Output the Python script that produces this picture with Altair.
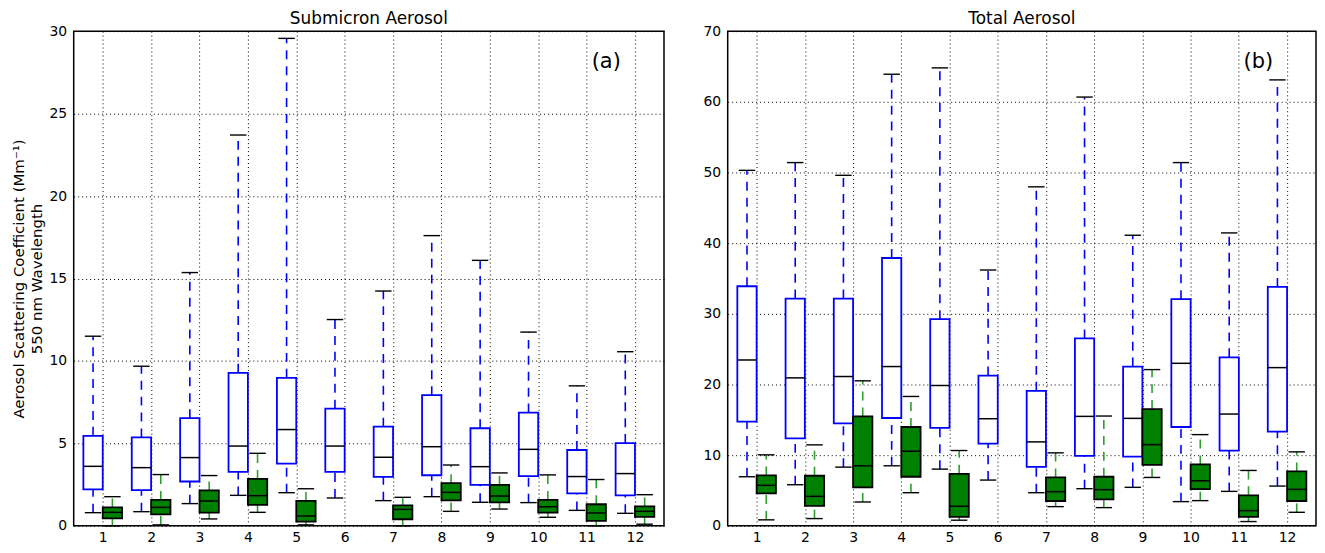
import altair as alt
import pandas as pd

months = list(range(1, 13))

# Panel (a): Submicron aerosol
a_blue_lo = [0.80, 0.86, 1.35, 1.85, 2.01, 1.69, 1.53, 1.77, 1.43, 1.41, 0.94, 0.76]
a_blue_q1 = [2.21, 2.17, 2.69, 3.27, 3.78, 3.27, 2.97, 3.07, 2.49, 3.01, 1.97, 1.85]
a_blue_md = [3.61, 3.53, 4.14, 4.84, 5.84, 4.84, 4.16, 4.80, 3.59, 4.64, 2.99, 3.17]
a_blue_q3 = [5.46, 5.36, 6.53, 9.28, 8.98, 7.11, 6.02, 7.93, 5.92, 6.87, 4.60, 5.02]
a_blue_hi = [11.5, 9.68, 15.36, 23.7, 29.56, 12.51, 14.24, 17.6, 16.1, 11.75, 8.49, 10.56]

a_green_lo = [0.00, 0.06, 0.42, 0.82, 0.06, None, 0.00, 0.88, 1.02, 0.52, 0.00, 0.10]
a_green_q1 = [0.46, 0.70, 0.80, 1.27, 0.26, None, 0.40, 1.55, 1.43, 0.80, 0.30, 0.54]
a_green_md = [0.82, 1.12, 1.51, 1.83, 0.60, None, 1.00, 2.03, 1.81, 1.16, 0.78, 0.88]
a_green_q3 = [1.12, 1.57, 2.15, 2.85, 1.51, None, 1.24, 2.59, 2.49, 1.57, 1.31, 1.18]
a_green_hi = [1.77, 3.11, 3.05, 4.40, 2.25, None, 1.73, 3.69, 3.21, 3.09, 2.81, 1.89]

# Panel (b): Total aerosol
b_blue_lo = [6.95, 5.82, 8.31, 8.50, 8.03, 6.48, 4.69, 5.26, 5.45, 3.43, 4.88, 5.63]
b_blue_q1 = [14.74, 12.39, 14.51, 15.26, 13.85, 11.64, 8.36, 9.91, 9.81, 13.99, 10.66, 13.33]
b_blue_md = [23.47, 20.94, 21.13, 22.54, 19.86, 15.16, 11.88, 15.49, 15.21, 23.0, 15.82, 22.39]
b_blue_q3 = [33.9, 32.16, 32.16, 37.9, 29.25, 21.27, 19.11, 26.53, 22.54, 32.07, 23.85, 33.8]
b_blue_hi = [50.3, 51.4, 49.6, 63.9, 64.8, 36.2, 47.97, 60.67, 41.12, 51.4, 41.45, 63.1]

b_green_lo = [0.85, 1.03, 3.38, 4.69, 0.80, None, 2.72, 2.58, 6.85, 3.57, 0.61, 1.92]
b_green_q1 = [4.60, 2.82, 5.45, 6.95, 1.27, None, 3.52, 3.76, 8.64, 5.21, 1.27, 3.52]
b_green_md = [5.73, 4.18, 8.50, 10.56, 2.77, None, 4.84, 5.12, 11.50, 6.38, 2.16, 5.16]
b_green_q3 = [7.14, 7.09, 15.49, 13.99, 7.37, None, 6.85, 6.95, 16.53, 8.69, 4.32, 7.70]
b_green_hi = [10.05, 11.46, 20.52, 18.31, 10.66, None, 10.33, 15.54, 22.11, 12.91, 7.84, 10.47]

FONT = "DejaVu Sans"
BLUE = "#0000ff"
GREEN_FILL = "#008000"
GREEN_WHISK = "#2e9e2e"


def frame(series, lo, q1, md, q3, hi):
    rows = []
    for m, a, b, c, d, e in zip(months, lo, q1, md, q3, hi):
        if a is None:
            continue
        rows.append(dict(month=m, series=series, lo=a, q1=b, md=c, q3=d, hi=e))
    return rows


def panel(title, label, ymax, ytitle, blue, green, width):
    df = pd.DataFrame(frame("blue", *blue) + frame("green", *green))
    base = alt.Chart(df).transform_calculate(
        pos="datum.month + (datum.series == 'blue' ? -0.2 : 0.2)",
        bl="datum.month + (datum.series == 'blue' ? -0.4 : 0.0)",
        br="datum.month + (datum.series == 'blue' ? 0.0 : 0.4)",
        cl="datum.month + (datum.series == 'blue' ? -0.37 : 0.03)",
        cr="datum.month + (datum.series == 'blue' ? -0.03 : 0.37)",
    )
    xs = alt.Scale(domain=[0.4, 12.6], nice=False, zero=False)
    ys = alt.Scale(domain=[0, ymax], nice=False)
    xaxis = alt.Axis(values=months, title=None, grid=True, gridDash=[1, 3],
                     gridColor="black", gridOpacity=1, ticks=False, domain=False,
                     labelFont=FONT, labelFontSize=14, labelColor="black", labelPadding=5)
    yaxis = alt.Axis(values=list(range(0, ymax + 1, 5 if ymax == 30 else 10)),
                     title=ytitle, grid=True, gridDash=[1, 3], gridColor="black",
                     gridOpacity=1, ticks=False, domain=False, labelFont=FONT,
                     labelFontSize=14, labelColor="black", labelPadding=7,
                     titleFont=FONT, titleFontSize=15, titleFontWeight="normal",
                     titleColor="black", titlePadding=5, titleLineHeight=18)
    colr = alt.Color("series:N", scale=alt.Scale(domain=["blue", "green"], range=[BLUE, GREEN_WHISK]), legend=None)

    whisk_up = base.mark_rule(strokeDash=[9, 7], strokeWidth=1.6).encode(
        x=alt.X("pos:Q", scale=xs, axis=xaxis), y=alt.Y("q3:Q", scale=ys, axis=yaxis), y2="hi:Q", color=colr)
    whisk_dn = base.mark_rule(strokeDash=[9, 7], strokeWidth=1.6).encode(
        x="pos:Q", y="lo:Q", y2="q1:Q", color=colr)
    cap_hi = base.mark_rule(color="black", strokeWidth=1.4).encode(x="cl:Q", x2="cr:Q", y="hi:Q")
    cap_lo = base.mark_rule(color="black", strokeWidth=1.4).encode(x="cl:Q", x2="cr:Q", y="lo:Q")
    box = base.mark_rect(strokeWidth=1.8).encode(
        x="bl:Q", x2="br:Q", y="q1:Q", y2="q3:Q",
        fill=alt.Fill("series:N", scale=alt.Scale(domain=["blue", "green"], range=["white", GREEN_FILL]), legend=None),
        stroke=alt.Stroke("series:N", scale=alt.Scale(domain=["blue", "green"], range=[BLUE, "black"]), legend=None),
    )
    med = base.mark_rule(color="black", strokeWidth=1.5).encode(x="bl:Q", x2="br:Q", y="md:Q")
    lab = alt.Chart(pd.DataFrame({"t": [label]})).mark_text(
        font=FONT, fontSize=21, color="black", align="center", baseline="middle").encode(
        text="t:N", x=alt.value(width - 58), y=alt.value(31))
    return alt.layer(whisk_up, whisk_dn, cap_hi, cap_lo, box, med, lab).properties(
        width=width, height=497,
        title=alt.TitleParams(title, font=FONT, fontSize=17, fontWeight="normal", color="black", offset=-4))


pa = panel("Submicron Aerosol", "(a)", 30,
           ["Aerosol Scattering Coefficient (Mm\u207b\u00b9)", "550 nm Wavelength"],
           (a_blue_lo, a_blue_q1, a_blue_md, a_blue_q3, a_blue_hi),
           (a_green_lo, a_green_q1, a_green_md, a_green_q3, a_green_hi), 593)
pb = panel("Total Aerosol", "(b)", 70, None,
           (b_blue_lo, b_blue_q1, b_blue_md, b_blue_q3, b_blue_hi),
           (b_green_lo, b_green_q1, b_green_md, b_green_q3, b_green_hi), 591)

chart = alt.hconcat(pa, pb, spacing=37).properties(padding={"left": 2, "top": 0, "right": 0, "bottom": 0}).configure_view(
    stroke="black", strokeWidth=1.5)

chart.save("out.html", embed_options={"renderer": "svg", "actions": False})
